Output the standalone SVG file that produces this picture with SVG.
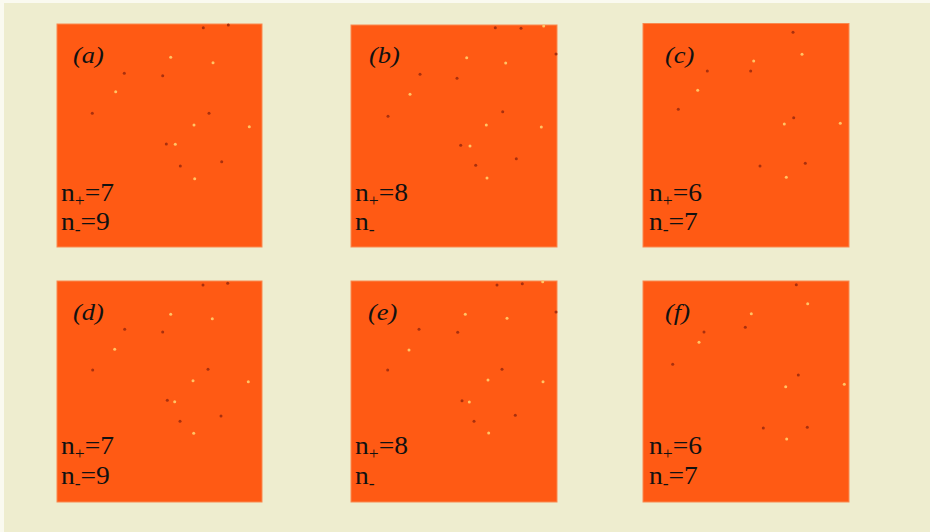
<svg xmlns="http://www.w3.org/2000/svg" width="930" height="532" viewBox="0 0 930 532">
<style>
.bg{fill:#EEEDCF}
.panel{fill:#FF5A14;stroke:#F98A50;stroke-width:1}
.dk{fill:#A8300E}
.lt{fill:#FFC466}
.lbl{font-family:"Liberation Serif","Times New Roman",serif;font-style:italic;font-size:23px;fill:#111}
.n{font-family:"Liberation Serif","Times New Roman",serif;font-size:25px;fill:#111}
.sub{font-size:16px}
</style>
<rect width="930" height="532" fill="#FAFAF0"/>
<rect class="bg" x="4" y="3" width="926" height="529"/>

<g id="panel-a">
<rect class="panel" x="57" y="24" width="205" height="223"/>
<g class="dk"><circle cx="203.3" cy="27.7" r="1.5"/><circle cx="228.3" cy="25" r="1.5"/><circle cx="124.3" cy="73.3" r="1.5"/><circle cx="162.7" cy="75.7" r="1.5"/><circle cx="92.3" cy="113.3" r="1.5"/><circle cx="209" cy="113.3" r="1.5"/><circle cx="166.3" cy="144" r="1.5"/><circle cx="221.7" cy="161.7" r="1.5"/><circle cx="180.3" cy="166" r="1.5"/></g>
<g class="lt"><circle cx="170.7" cy="57.3" r="1.5"/><circle cx="213" cy="62.7" r="1.5"/><circle cx="115.7" cy="91.7" r="1.5"/><circle cx="194" cy="125" r="1.5"/><circle cx="249.3" cy="126.7" r="1.5"/><circle cx="175.3" cy="144.3" r="1.5"/><circle cx="194.7" cy="178.7" r="1.5"/></g>
<text class="lbl" transform="translate(73,62.5) scale(1.15,1)">(a)</text>
<text class="n" transform="translate(61,201) scale(1.1,1)">n<tspan class="sub" dy="5">+</tspan><tspan dy="-5">=7</tspan></text>
<text class="n" transform="translate(61,230) scale(1.1,1)">n<tspan class="sub" dy="5">-</tspan><tspan dy="-5">=9</tspan></text>
</g>

<g id="panel-b">
<rect class="panel" x="351" y="25" width="206" height="222"/>
<g class="dk"><circle cx="495.3" cy="27.7" r="1.5"/><circle cx="521" cy="28.3" r="1.5"/><circle cx="556" cy="54" r="1.5"/><circle cx="420" cy="74.3" r="1.5"/><circle cx="457" cy="78.3" r="1.5"/><circle cx="388" cy="116.3" r="1.5"/><circle cx="502.7" cy="111.7" r="1.5"/><circle cx="460.7" cy="145.3" r="1.5"/><circle cx="516.3" cy="158.7" r="1.5"/><circle cx="475.7" cy="165.3" r="1.5"/></g>
<g class="lt"><circle cx="543.7" cy="26" r="1.5"/><circle cx="466.7" cy="57.7" r="1.5"/><circle cx="505.7" cy="63" r="1.5"/><circle cx="410" cy="94.3" r="1.5"/><circle cx="486.3" cy="125" r="1.5"/><circle cx="541.3" cy="127" r="1.5"/><circle cx="470" cy="146" r="1.5"/><circle cx="487" cy="178" r="1.5"/></g>
<text class="lbl" transform="translate(369,62.5) scale(1.15,1)">(b)</text>
<text class="n" transform="translate(355,201) scale(1.1,1)">n<tspan class="sub" dy="5">+</tspan><tspan dy="-5">=8</tspan></text>
<text class="n" transform="translate(355,230) scale(1.1,1)">n<tspan class="sub" dy="5">-</tspan></text>
</g>

<g id="panel-c">
<rect class="panel" x="643" y="23.5" width="206" height="223.5"/>
<g class="dk"><circle cx="793" cy="32.3" r="1.5"/><circle cx="707.3" cy="71" r="1.5"/><circle cx="750.7" cy="71" r="1.5"/><circle cx="678.3" cy="109.3" r="1.5"/><circle cx="793.7" cy="117.7" r="1.5"/><circle cx="760" cy="166" r="1.5"/><circle cx="805.3" cy="163.3" r="1.5"/></g>
<g class="lt"><circle cx="802" cy="54.3" r="1.5"/><circle cx="753.7" cy="61" r="1.5"/><circle cx="697.7" cy="90.3" r="1.5"/><circle cx="784.3" cy="124" r="1.5"/><circle cx="840.3" cy="123.3" r="1.5"/><circle cx="786.3" cy="177.3" r="1.5"/></g>
<text class="lbl" transform="translate(665,62.5) scale(1.15,1)">(c)</text>
<text class="n" transform="translate(649,201) scale(1.1,1)">n<tspan class="sub" dy="5">+</tspan><tspan dy="-5">=6</tspan></text>
<text class="n" transform="translate(649,230) scale(1.1,1)">n<tspan class="sub" dy="5">-</tspan><tspan dy="-5">=7</tspan></text>
</g>

<g id="panel-d">
<rect class="panel" x="57" y="281" width="205" height="221"/>
<g class="dk"><circle cx="203" cy="285" r="1.5"/><circle cx="227.7" cy="283.3" r="1.5"/><circle cx="124.7" cy="329.3" r="1.5"/><circle cx="162.7" cy="332" r="1.5"/><circle cx="92.7" cy="370" r="1.5"/><circle cx="208" cy="369.3" r="1.5"/><circle cx="167.3" cy="400.3" r="1.5"/><circle cx="221" cy="416" r="1.5"/><circle cx="180" cy="421.3" r="1.5"/></g>
<g class="lt"><circle cx="170.7" cy="314.3" r="1.5"/><circle cx="212.3" cy="318.7" r="1.5"/><circle cx="114.7" cy="349.3" r="1.5"/><circle cx="193" cy="380.7" r="1.5"/><circle cx="248.3" cy="381.7" r="1.5"/><circle cx="174.7" cy="401.7" r="1.5"/><circle cx="193.7" cy="433.3" r="1.5"/></g>
<text class="lbl" transform="translate(73,319.5) scale(1.15,1)">(d)</text>
<text class="n" transform="translate(61,453.5) scale(1.1,1)">n<tspan class="sub" dy="5">+</tspan><tspan dy="-5">=7</tspan></text>
<text class="n" transform="translate(61,483.5) scale(1.1,1)">n<tspan class="sub" dy="5">-</tspan><tspan dy="-5">=9</tspan></text>
</g>

<g id="panel-e">
<rect class="panel" x="351" y="281" width="206" height="221"/>
<g class="dk"><circle cx="497" cy="285" r="1.5"/><circle cx="522.3" cy="283.7" r="1.5"/><circle cx="556" cy="312" r="1.5"/><circle cx="419" cy="329.3" r="1.5"/><circle cx="457.7" cy="332.3" r="1.5"/><circle cx="387.7" cy="370" r="1.5"/><circle cx="502" cy="369.3" r="1.5"/><circle cx="462" cy="400.7" r="1.5"/><circle cx="515.3" cy="415.3" r="1.5"/><circle cx="474" cy="421.3" r="1.5"/></g>
<g class="lt"><circle cx="542.7" cy="281.7" r="1.5"/><circle cx="465.3" cy="314.3" r="1.5"/><circle cx="507" cy="318.3" r="1.5"/><circle cx="409" cy="350" r="1.5"/><circle cx="488" cy="380" r="1.5"/><circle cx="543" cy="381.7" r="1.5"/><circle cx="469.3" cy="402" r="1.5"/><circle cx="488.7" cy="433" r="1.5"/></g>
<text class="lbl" transform="translate(368,319.5) scale(1.15,1)">(e)</text>
<text class="n" transform="translate(355,453.5) scale(1.1,1)">n<tspan class="sub" dy="5">+</tspan><tspan dy="-5">=8</tspan></text>
<text class="n" transform="translate(355,483.5) scale(1.1,1)">n<tspan class="sub" dy="5">-</tspan></text>
</g>

<g id="panel-f">
<rect class="panel" x="643" y="281" width="206" height="221"/>
<g class="dk"><circle cx="796.3" cy="284.7" r="1.5"/><circle cx="704" cy="332" r="1.5"/><circle cx="745.3" cy="327.3" r="1.5"/><circle cx="672.7" cy="364.3" r="1.5"/><circle cx="798.3" cy="375" r="1.5"/><circle cx="763.3" cy="428" r="1.5"/><circle cx="807.3" cy="427.3" r="1.5"/></g>
<g class="lt"><circle cx="807.7" cy="303.7" r="1.5"/><circle cx="751.3" cy="313.7" r="1.5"/><circle cx="699" cy="342.3" r="1.5"/><circle cx="785.7" cy="386.7" r="1.5"/><circle cx="844.3" cy="384.3" r="1.5"/><circle cx="786.7" cy="439" r="1.5"/></g>
<text class="lbl" transform="translate(665,319.5) scale(1.15,1)">(f)</text>
<text class="n" transform="translate(649,453.5) scale(1.1,1)">n<tspan class="sub" dy="5">+</tspan><tspan dy="-5">=6</tspan></text>
<text class="n" transform="translate(649,483.5) scale(1.1,1)">n<tspan class="sub" dy="5">-</tspan><tspan dy="-5">=7</tspan></text>
</g>
</svg>
